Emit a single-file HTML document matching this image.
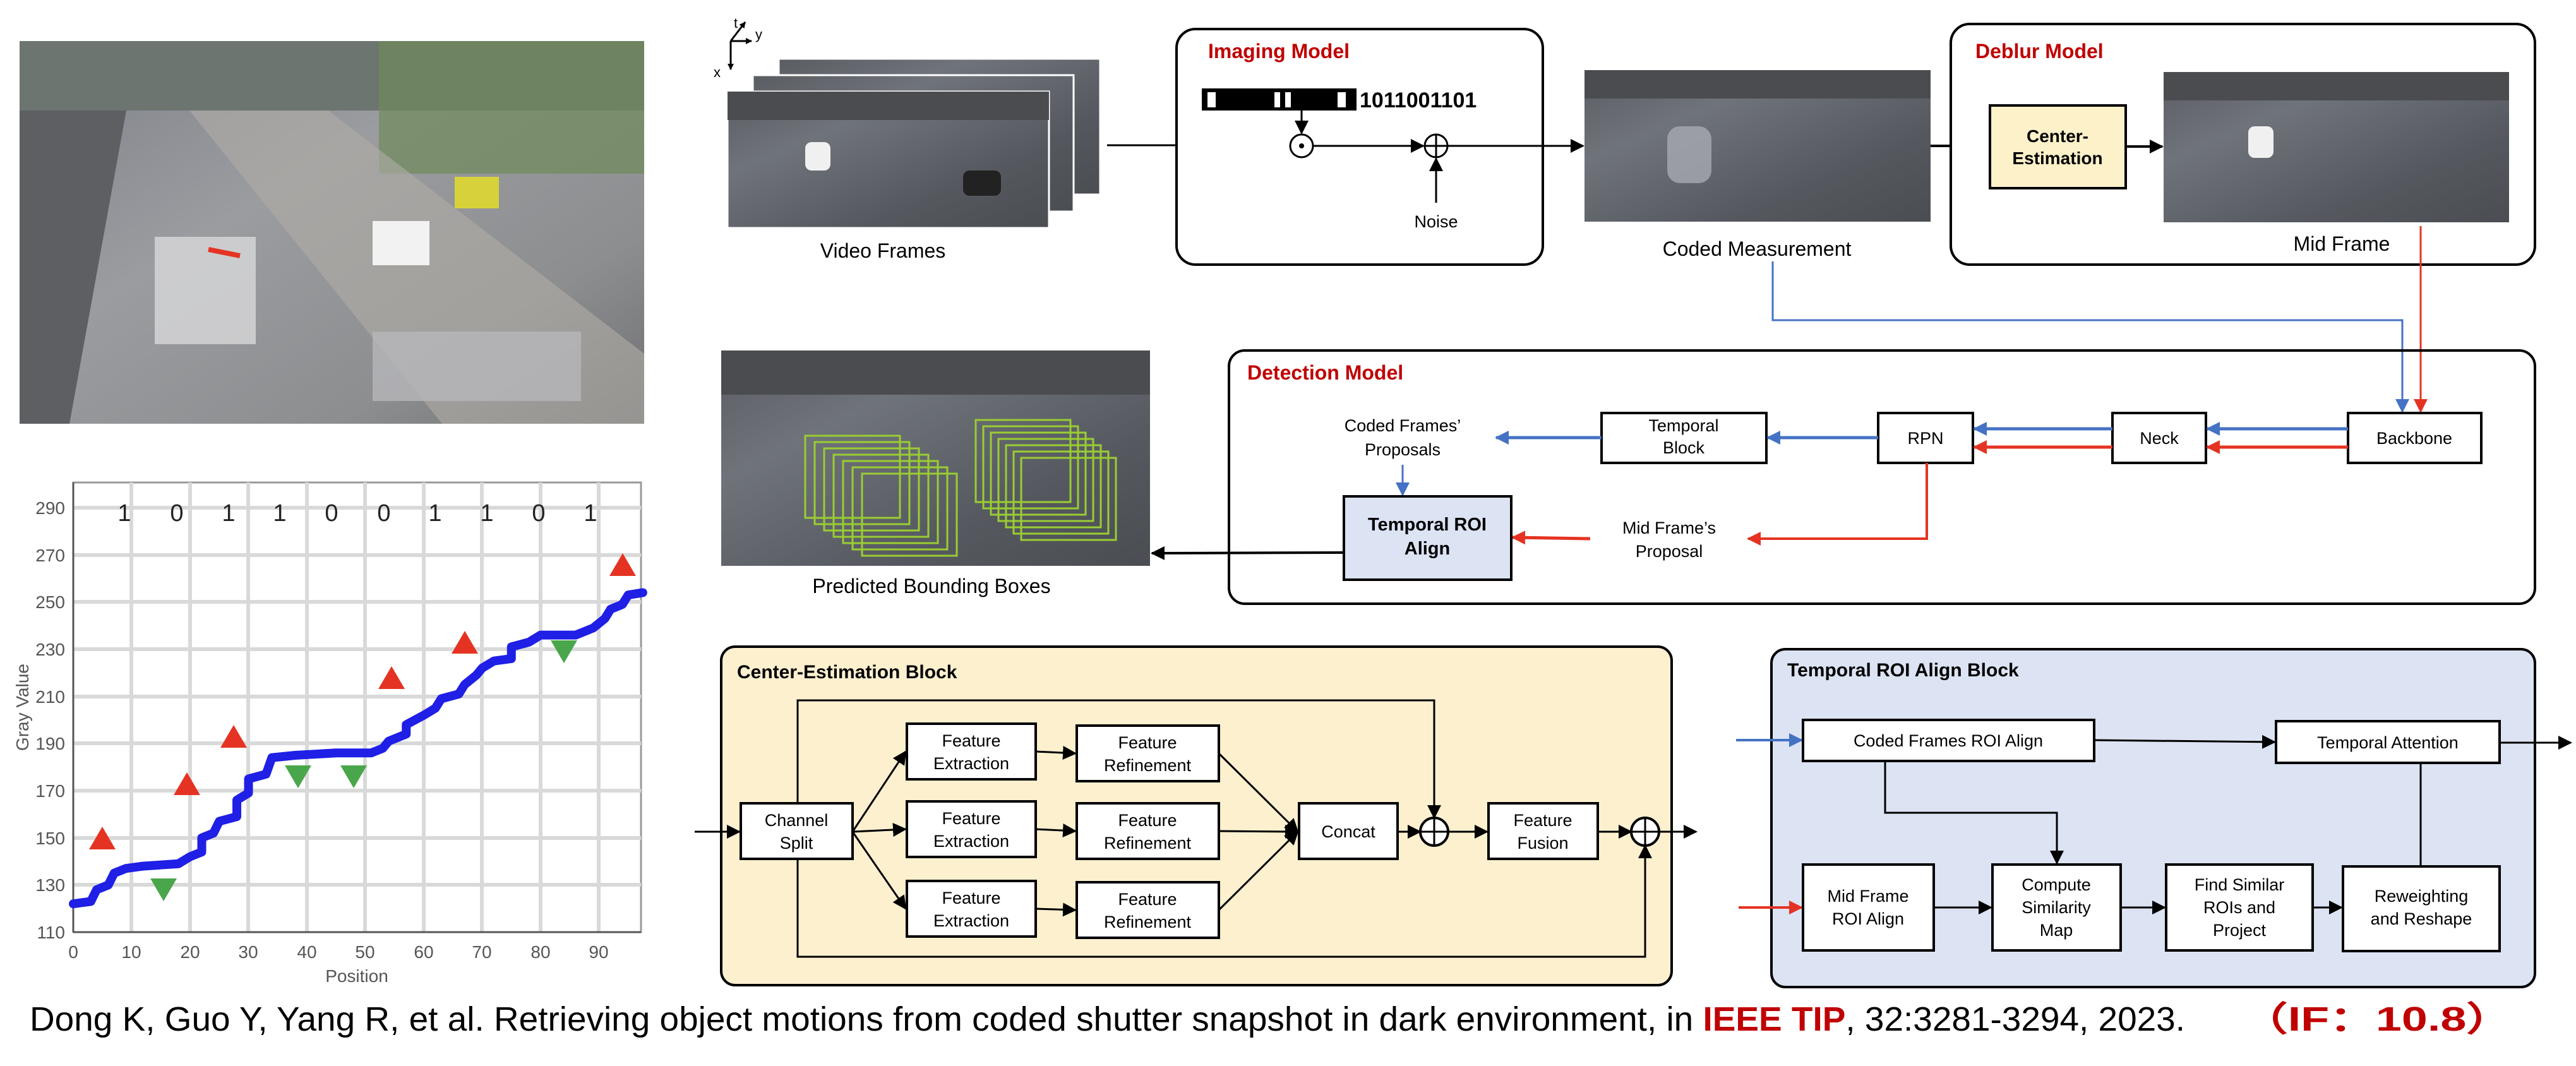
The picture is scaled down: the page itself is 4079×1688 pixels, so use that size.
<!DOCTYPE html>
<html><head><meta charset="utf-8"><style>
html,body{margin:0;padding:0;background:#fff}
svg{display:block}
text{font-family:"Liberation Sans",sans-serif}
</style></head><body>
<svg width="4079" height="1688" viewBox="0 0 4079 1688" xmlns="http://www.w3.org/2000/svg">
<defs>
<marker id="ak" markerWidth="10" markerHeight="10" refX="9" refY="5" orient="auto" markerUnits="userSpaceOnUse" viewBox="0 0 10 10"><path d="M0,0 L10,5 L0,10 z" fill="#000"/></marker>
<marker id="ab" markerWidth="22" markerHeight="22" refX="20" refY="11" orient="auto" markerUnits="userSpaceOnUse"><path d="M0,0 L22,11 L0,22 z" fill="#4472c4"/></marker>
<marker id="ar" markerWidth="22" markerHeight="22" refX="20" refY="11" orient="auto" markerUnits="userSpaceOnUse"><path d="M0,0 L22,11 L0,22 z" fill="#e53323"/></marker>
<marker id="k" markerWidth="22" markerHeight="22" refX="20" refY="11" orient="auto" markerUnits="userSpaceOnUse"><path d="M0,0 L22,11 L0,22 z" fill="#000"/></marker>
<linearGradient id="road" x1="0" y1="0" x2="1" y2="1">
<stop offset="0" stop-color="#5a5d62"/><stop offset="0.3" stop-color="#6f737a"/><stop offset="0.7" stop-color="#55595f"/><stop offset="1" stop-color="#4a4d52"/></linearGradient>
<linearGradient id="photo1" x1="0" y1="0" x2="1" y2="1">
<stop offset="0" stop-color="#7d8088"/><stop offset="0.4" stop-color="#9a9ca0"/><stop offset="0.75" stop-color="#8d8e90"/><stop offset="1" stop-color="#6e6f72"/></linearGradient>
</defs>

<!-- top-left photo -->
<rect x="31" y="65" width="989" height="606" fill="url(#photo1)"/>
<rect x="31" y="65" width="989" height="110" fill="#6d7570"/>
<rect x="600" y="65" width="420" height="210" fill="#6f8a5a" opacity="0.7"/>
<polygon points="31,175 200,175 110,671 31,671" fill="#5d5f63"/>
<polygon points="300,175 520,175 1020,560 1020,671 700,671" fill="#b0aea6" opacity="0.6"/>
<rect x="245" y="375" width="160" height="170" fill="#d8d8da" opacity="0.8"/>
<rect x="590" y="525" width="330" height="110" fill="#b6b7ba" opacity="0.8"/>
<rect x="590" y="350" width="90" height="70" fill="#f2f2f2"/>
<rect x="720" y="280" width="70" height="50" fill="#d8d23a"/>
<line x1="330" y1="395" x2="380" y2="405" stroke="#e53323" stroke-width="8"/>

<!-- chart -->
<g>
<rect x="116" y="764" width="899" height="712" fill="#fff" stroke="#999" stroke-width="3"/>
<g stroke="#d9d9d9" stroke-width="6">
<line x1="116" y1="804" x2="1015" y2="804"/><line x1="116" y1="879" x2="1015" y2="879"/><line x1="116" y1="953" x2="1015" y2="953"/><line x1="116" y1="1028" x2="1015" y2="1028"/><line x1="116" y1="1103" x2="1015" y2="1103"/><line x1="116" y1="1177" x2="1015" y2="1177"/><line x1="116" y1="1252" x2="1015" y2="1252"/><line x1="116" y1="1327" x2="1015" y2="1327"/><line x1="116" y1="1401" x2="1015" y2="1401"/>
<line x1="208" y1="764" x2="208" y2="1476"/><line x1="301" y1="764" x2="301" y2="1476"/><line x1="393" y1="764" x2="393" y2="1476"/><line x1="486" y1="764" x2="486" y2="1476"/><line x1="578" y1="764" x2="578" y2="1476"/><line x1="671" y1="764" x2="671" y2="1476"/><line x1="763" y1="764" x2="763" y2="1476"/><line x1="856" y1="764" x2="856" y2="1476"/><line x1="948" y1="764" x2="948" y2="1476"/>
</g>
<line x1="116" y1="1476" x2="1015" y2="1476" stroke="#555" stroke-width="3"/>
<line x1="116" y1="764" x2="116" y2="1476" stroke="#555" stroke-width="3"/>
<g font-size="28" fill="#555" text-anchor="end">
<text x="103" y="814">290</text><text x="103" y="889">270</text><text x="103" y="963">250</text><text x="103" y="1038">230</text><text x="103" y="1113">210</text><text x="103" y="1187">190</text><text x="103" y="1262">170</text><text x="103" y="1337">150</text><text x="103" y="1411">130</text><text x="103" y="1486">110</text>
</g>
<g font-size="28" fill="#555" text-anchor="middle">
<text x="116" y="1517">0</text><text x="208" y="1517">10</text><text x="301" y="1517">20</text><text x="393" y="1517">30</text><text x="486" y="1517">40</text><text x="578" y="1517">50</text><text x="671" y="1517">60</text><text x="763" y="1517">70</text><text x="856" y="1517">80</text><text x="948" y="1517">90</text>
</g>
<text x="565" y="1555" font-size="28" fill="#555" text-anchor="middle" font-family="Liberation Serif, serif">Position</text>
<text transform="translate(45,1120) rotate(-90)" font-size="28" fill="#555" text-anchor="middle" font-family="Liberation Serif, serif">Gray Value</text>
<g font-size="38" fill="#222" text-anchor="middle">
<text x="197" y="825">1</text><text x="280" y="825">0</text><text x="362" y="825">1</text><text x="443" y="825">1</text><text x="525" y="825">0</text><text x="608" y="825">0</text><text x="689" y="825">1</text><text x="771" y="825">1</text><text x="853" y="825">0</text><text x="935" y="825">1</text>
</g>
<g transform="translate(116,1476) scale(9.25,-3.733) translate(0,-110)">
<polyline fill="none" stroke="#1f1fe6" stroke-width="14" stroke-linejoin="round" stroke-linecap="round" vector-effect="non-scaling-stroke" points="0,122 3,123 4,128 6,130 7,135 9,137 12,138 18,139 20,142 22,144 22,150 24,152 25,157 28,159 28,166 30,169 30,175 33,177 34,184 38,185 45,186 51,186 53,188 54,191 57,194 57,198 60,202 62,205 63,209 66,211 67,215 69,219 70,222 72,225 75,226 75,231 78,233 80,236 86,236 89,239 91,243 92,247 94,249 95,253 97.5,254"/>
</g>
<g fill="#e53323">
<polygon points="141,1345 162,1309 183,1345"/>
<polygon points="275,1259 296,1223 317,1259"/>
<polygon points="349,1184 370,1148 391,1184"/>
<polygon points="599,1091 620,1055 641,1091"/>
<polygon points="715,1035 736,999 757,1035"/>
<polygon points="965,912 986,876 1007,912"/>
</g>
<g fill="#4aa64a">
<polygon points="238,1391 259,1427 280,1391"/>
<polygon points="451,1212 472,1248 493,1212"/>
<polygon points="539,1212 560,1248 581,1212"/>
<polygon points="872,1014 893,1050 914,1014"/>
</g>
</g>

<!-- axes icon -->
<g stroke="#000" stroke-width="3" fill="none">
<line x1="1157" y1="65" x2="1157" y2="110" marker-end="url(#ak)"/>
<line x1="1157" y1="65" x2="1190" y2="65" marker-end="url(#ak)"/>
<line x1="1157" y1="65" x2="1180" y2="35" marker-end="url(#ak)"/>
</g>
<text x="1162" y="44" font-size="22">t</text><text x="1196" y="62" font-size="22">y</text><text x="1130" y="122" font-size="22">x</text>

<!-- video frames -->
<rect x="1233" y="93" width="509" height="215" fill="url(#road)" stroke="#fff" stroke-width="3"/>
<rect x="1192" y="119" width="508" height="216" fill="url(#road)" stroke="#fff" stroke-width="3"/>
<rect x="1152" y="145" width="509" height="216" fill="url(#road)" stroke="#fff" stroke-width="3"/>
<rect x="1152" y="145" width="509" height="45" fill="#4a4c50"/>
<rect x="1275" y="225" width="40" height="45" rx="10" fill="#f0f0f0"/>
<rect x="1525" y="270" width="60" height="40" rx="10" fill="#222"/>
<text x="1398" y="408" font-size="32" text-anchor="middle">Video Frames</text>
<line x1="1753" y1="230" x2="2043" y2="230" stroke="#000" stroke-width="3" marker-end="url(#k)"/>

<!-- imaging model -->
<rect x="1863" y="46" width="580" height="373" rx="30" fill="#fff" stroke="#000" stroke-width="4"/>
<text x="1913" y="92" font-size="32" font-weight="bold" fill="#c00000">Imaging Model</text>
<rect x="1903" y="140" width="245" height="35" fill="#000"/>
<rect x="1912" y="146" width="13" height="24" fill="#fff"/><rect x="2018" y="146" width="9" height="24" fill="#fff"/><rect x="2035" y="146" width="9" height="24" fill="#fff"/><rect x="2118" y="146" width="13" height="24" fill="#fff"/>
<text x="2153" y="170" font-size="34" font-weight="bold">1011001101</text>
<line x1="2061" y1="175" x2="2061" y2="211" stroke="#000" stroke-width="3" marker-end="url(#k)"/>
<circle cx="2061" cy="231" r="18" fill="#fff" stroke="#000" stroke-width="3"/><circle cx="2061" cy="231" r="4" fill="#000"/>
<line x1="2079" y1="231" x2="2254" y2="231" stroke="#000" stroke-width="3" marker-end="url(#k)"/>
<circle cx="2274" cy="231" r="18" fill="#fff" stroke="#000" stroke-width="3"/>
<line x1="2256" y1="231" x2="2292" y2="231" stroke="#000" stroke-width="3"/><line x1="2274" y1="213" x2="2274" y2="249" stroke="#000" stroke-width="3"/>
<line x1="2274" y1="321" x2="2274" y2="251" stroke="#000" stroke-width="3" marker-end="url(#k)"/>
<text x="2274" y="360" font-size="27" text-anchor="middle">Noise</text>
<line x1="2292" y1="231" x2="2507" y2="231" stroke="#000" stroke-width="3" marker-end="url(#k)"/>

<!-- coded measurement -->
<rect x="2509" y="111" width="548" height="240" fill="url(#road)"/>
<rect x="2509" y="111" width="548" height="45" fill="#4a4c50"/>
<rect x="2640" y="200" width="70" height="90" rx="20" fill="#a8aab0" opacity="0.8"/>
<text x="2782" y="405" font-size="32" text-anchor="middle">Coded Measurement</text>
<line x1="3057" y1="231" x2="3149" y2="231" stroke="#000" stroke-width="4" marker-end="url(#k)"/>

<!-- deblur model -->
<rect x="3089" y="38" width="925" height="381" rx="30" fill="#fff" stroke="#000" stroke-width="4"/>
<text x="3128" y="92" font-size="32" font-weight="bold" fill="#c00000">Deblur Model</text>
<rect x="3151" y="167" width="215" height="131" fill="#fdf1c9" stroke="#000" stroke-width="4"/>
<text x="3258" y="225" font-size="28" font-weight="bold" text-anchor="middle">Center-</text>
<text x="3258" y="260" font-size="28" font-weight="bold" text-anchor="middle">Estimation</text>
<line x1="3366" y1="232" x2="3424" y2="232" stroke="#000" stroke-width="4" marker-end="url(#k)"/>
<rect x="3426" y="114" width="547" height="238" fill="url(#road)"/>
<rect x="3426" y="114" width="547" height="45" fill="#4a4c50"/>
<rect x="3560" y="200" width="40" height="50" rx="10" fill="#f0f0f0"/>
<text x="3708" y="397" font-size="32" text-anchor="middle">Mid Frame</text>

<!-- connectors to detection -->
<polyline points="3833,358 3833,652" fill="none" stroke="#e53323" stroke-width="3" marker-end="url(#ar)"/>
<polyline points="2807,414 2807,507 3804,507 3804,652" fill="none" stroke="#4472c4" stroke-width="3" marker-end="url(#ab)"/>

<!-- detection model -->
<rect x="1946" y="555" width="2068" height="401" rx="25" fill="none" stroke="#000" stroke-width="4"/>
<text x="1975" y="601" font-size="32" font-weight="bold" fill="#c00000">Detection Model</text>
<g fill="#fff" stroke="#000" stroke-width="4">
<rect x="3718" y="654" width="211" height="79"/><rect x="3345" y="654" width="148" height="79"/><rect x="2974" y="654" width="150" height="79"/><rect x="2536" y="654" width="261" height="79"/>
</g>
<g font-size="27" text-anchor="middle">
<text x="3823" y="703">Backbone</text><text x="3419" y="703">Neck</text><text x="3049" y="703">RPN</text>
<text x="2666" y="683">Temporal</text><text x="2666" y="718">Block</text>
<text x="2221" y="683">Coded Frames’</text><text x="2221" y="721">Proposals</text>
<text x="2643" y="845">Mid Frame’s</text><text x="2643" y="882">Proposal</text>
</g>
<g stroke-width="5" fill="none">
<line x1="3718" y1="679" x2="3495" y2="679" stroke="#4472c4" marker-end="url(#ab)"/>
<line x1="3718" y1="708" x2="3495" y2="708" stroke="#e53323" marker-end="url(#ar)"/>
<line x1="3345" y1="679" x2="3126" y2="679" stroke="#4472c4" marker-end="url(#ab)"/>
<line x1="3345" y1="708" x2="3126" y2="708" stroke="#e53323" marker-end="url(#ar)"/>
<line x1="2974" y1="693" x2="2799" y2="693" stroke="#4472c4" marker-end="url(#ab)"/>
<line x1="2536" y1="693" x2="2369" y2="693" stroke="#4472c4" marker-end="url(#ab)"/>
<line x1="2518" y1="853" x2="2395" y2="851" stroke="#e53323" marker-end="url(#ar)"/>
</g>
<polyline points="3051,733 3051,853 2768,853" fill="none" stroke="#e53323" stroke-width="4" marker-end="url(#ar)"/>
<line x1="2221" y1="736" x2="2221" y2="784" stroke="#4472c4" stroke-width="3" marker-end="url(#ab)"/>
<rect x="2128" y="786" width="265" height="132" fill="#dce3f3" stroke="#000" stroke-width="4"/>
<text x="2260" y="840" font-size="29" font-weight="bold" text-anchor="middle">Temporal ROI</text>
<text x="2260" y="878" font-size="29" font-weight="bold" text-anchor="middle">Align</text>
<line x1="2126" y1="875" x2="1824" y2="876" stroke="#000" stroke-width="4" marker-end="url(#k)"/>

<!-- predicted -->
<rect x="1142" y="555" width="679" height="341" fill="url(#road)"/>
<rect x="1142" y="555" width="679" height="70" fill="#4a4c50"/>
<g fill="none" stroke="#9acd32" stroke-width="3">
<rect x="1275" y="690" width="150" height="130"/><rect x="1290" y="700" width="150" height="130"/><rect x="1305" y="710" width="150" height="130"/><rect x="1320" y="720" width="150" height="130"/><rect x="1335" y="730" width="150" height="130"/><rect x="1350" y="740" width="150" height="130"/><rect x="1365" y="750" width="150" height="130"/>
<rect x="1545" y="665" width="150" height="130"/><rect x="1557" y="675" width="150" height="130"/><rect x="1569" y="685" width="150" height="130"/><rect x="1581" y="695" width="150" height="130"/><rect x="1593" y="705" width="150" height="130"/><rect x="1605" y="715" width="150" height="130"/><rect x="1617" y="725" width="150" height="130"/>
</g>
<text x="1475" y="939" font-size="32" text-anchor="middle">Predicted Bounding Boxes</text>

<!-- center-estimation block -->
<rect x="1142" y="1024" width="1505" height="536" rx="22" fill="#fcf0cf" stroke="#000" stroke-width="4"/>
<text x="1167" y="1074" font-size="30" font-weight="bold">Center-Estimation Block</text>
<g fill="none" stroke="#000" stroke-width="3">
<polyline points="1263,1272 1263,1109 2271,1109 2271,1295" marker-end="url(#k)"/>
<polyline points="1263,1360 1263,1515 2605,1515 2605,1339" marker-end="url(#k)"/>
<line x1="1100" y1="1317" x2="1171" y2="1317" marker-end="url(#k)"/>
<line x1="1350" y1="1317" x2="1434" y2="1190" marker-end="url(#k)"/>
<line x1="1350" y1="1317" x2="1434" y2="1313" marker-end="url(#k)"/>
<line x1="1350" y1="1317" x2="1434" y2="1439" marker-end="url(#k)"/>
<line x1="1640" y1="1190" x2="1703" y2="1193" marker-end="url(#k)"/>
<line x1="1640" y1="1313" x2="1703" y2="1316" marker-end="url(#k)"/>
<line x1="1640" y1="1439" x2="1703" y2="1441" marker-end="url(#k)"/>
<line x1="1930" y1="1193" x2="2055" y2="1317" marker-end="url(#k)"/>
<line x1="1930" y1="1316" x2="2055" y2="1317" marker-end="url(#k)"/>
<line x1="1930" y1="1441" x2="2055" y2="1317" marker-end="url(#k)"/>
<line x1="2213" y1="1317" x2="2249" y2="1317" marker-end="url(#k)"/>
<line x1="2293" y1="1317" x2="2355" y2="1317" marker-end="url(#k)"/>
<line x1="2530" y1="1317" x2="2583" y2="1317" marker-end="url(#k)"/>
<line x1="2627" y1="1317" x2="2686" y2="1317" marker-end="url(#k)"/>
</g>
<g fill="#fff" stroke="#000" stroke-width="4">
<rect x="1173" y="1272" width="177" height="88"/>
<rect x="1436" y="1146" width="204" height="88"/><rect x="1436" y="1269" width="204" height="88"/><rect x="1436" y="1395" width="204" height="88"/>
<rect x="1705" y="1149" width="225" height="88"/><rect x="1705" y="1272" width="225" height="88"/><rect x="1705" y="1397" width="225" height="88"/>
<rect x="2057" y="1272" width="156" height="88"/><rect x="2357" y="1272" width="173" height="88"/>
<circle cx="2271" cy="1317" r="22"/><circle cx="2605" cy="1317" r="22"/>
</g>
<g stroke="#000" stroke-width="3">
<line x1="2249" y1="1317" x2="2293" y2="1317"/><line x1="2271" y1="1295" x2="2271" y2="1339"/>
<line x1="2583" y1="1317" x2="2627" y2="1317"/><line x1="2605" y1="1295" x2="2605" y2="1339"/>
</g>
<g font-size="27" text-anchor="middle">
<text x="1261" y="1308">Channel</text><text x="1261" y="1344">Split</text>
<text x="1538" y="1182">Feature</text><text x="1538" y="1218">Extraction</text>
<text x="1538" y="1305">Feature</text><text x="1538" y="1341">Extraction</text>
<text x="1538" y="1431">Feature</text><text x="1538" y="1467">Extraction</text>
<text x="1817" y="1185">Feature</text><text x="1817" y="1221">Refinement</text>
<text x="1817" y="1308">Feature</text><text x="1817" y="1344">Refinement</text>
<text x="1817" y="1433">Feature</text><text x="1817" y="1469">Refinement</text>
<text x="2135" y="1326">Concat</text>
<text x="2443" y="1308">Feature</text><text x="2443" y="1344">Fusion</text>
</g>

<!-- temporal roi align block -->
<rect x="2805" y="1028" width="1209" height="535" rx="22" fill="#dce3f3" stroke="#000" stroke-width="4"/>
<text x="2830" y="1071" font-size="30" font-weight="bold">Temporal ROI Align Block</text>
<g fill="none" stroke="#000" stroke-width="3">
<polyline points="2985,1205 2985,1287 3257,1287 3257,1367" marker-end="url(#k)"/>
<line x1="3316" y1="1172" x2="3602" y2="1175" marker-end="url(#k)"/>
<line x1="3958" y1="1176" x2="4071" y2="1176" marker-end="url(#k)"/>
<line x1="3833" y1="1372" x2="3833" y2="1208"/>
<line x1="3062" y1="1437" x2="3153" y2="1437" marker-end="url(#k)"/>
<line x1="3358" y1="1437" x2="3428" y2="1437" marker-end="url(#k)"/>
<line x1="3662" y1="1437" x2="3708" y2="1437" marker-end="url(#k)"/>
</g>
<line x1="2749" y1="1172" x2="2853" y2="1172" stroke="#4472c4" stroke-width="4" marker-end="url(#ab)"/>
<line x1="2753" y1="1437" x2="2853" y2="1437" stroke="#e53323" stroke-width="4" marker-end="url(#ar)"/>
<g fill="#fff" stroke="#000" stroke-width="4">
<rect x="2855" y="1140" width="461" height="65"/><rect x="3604" y="1142" width="354" height="66"/>
<rect x="2855" y="1369" width="207" height="136"/><rect x="3155" y="1369" width="203" height="136"/>
<rect x="3430" y="1369" width="232" height="136"/><rect x="3710" y="1372" width="248" height="134"/>
</g>
<g font-size="27" text-anchor="middle">
<text x="3085" y="1182">Coded Frames ROI Align</text>
<text x="3781" y="1185">Temporal Attention</text>
<text x="2958" y="1428">Mid Frame</text><text x="2958" y="1464">ROI Align</text>
<text x="3256" y="1410">Compute</text><text x="3256" y="1446">Similarity</text><text x="3256" y="1482">Map</text>
<text x="3546" y="1410">Find Similar</text><text x="3546" y="1446">ROIs and</text><text x="3546" y="1482">Project</text>
<text x="3834" y="1428">Reweighting</text><text x="3834" y="1464">and Reshape</text>
</g>

<!-- caption -->
<text x="47" y="1632" font-size="54" textLength="3413" lengthAdjust="spacingAndGlyphs">Dong K, Guo Y, Yang R, et al. Retrieving object motions from coded shutter snapshot in dark environment, in <tspan fill="#c00000" font-weight="bold">IEEE TIP</tspan>, 32:3281-3294, 2023.</text>
<text x="3549" y="1632" font-size="54" fill="#c00000" font-weight="bold" textLength="430" lengthAdjust="spacingAndGlyphs" font-family="Liberation Sans, Noto Sans CJK SC, sans-serif">（IF：10.8）</text>
</svg>
</body></html>
